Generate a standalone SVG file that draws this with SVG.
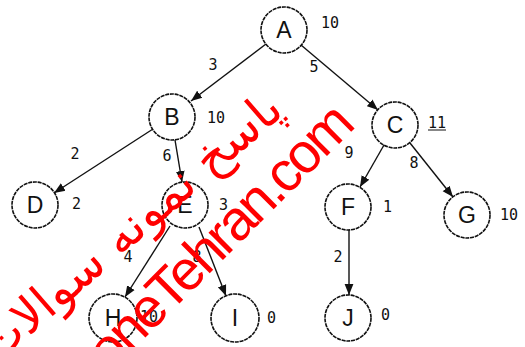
<svg xmlns="http://www.w3.org/2000/svg" width="525" height="347" viewBox="0 0 525 347">
  <style>
    .node circle { fill: #fff; stroke: #111; stroke-width: 1.6; stroke-dasharray: 4 0.8; }
    .node text.name { font-family: "Liberation Sans", Arial, sans-serif; font-size: 23px; fill: #111; text-anchor: middle; dominant-baseline: central; }
    .val { font-family: "DejaVu Sans Mono", "Liberation Mono", monospace; font-size: 15px; fill: #111; dominant-baseline: central; }
    .edges line { stroke: #111; stroke-width: 1.4; marker-end: url(#arrow); }
    .elabel { font-family: "DejaVu Sans Mono", "Liberation Mono", monospace; font-size: 15px; fill: #111; text-anchor: middle; dominant-baseline: central; }
    .wm { fill: #ff0000; }
  </style>
  <defs>
    <marker id="arrow" viewBox="0 0 10 10" refX="10" refY="5" markerWidth="11" markerHeight="11" markerUnits="userSpaceOnUse" orient="auto">
      <path d="M0,1 L10,5 L0,9 Z" fill="#111"/>
    </marker>
  </defs>
  <rect width="525" height="347" fill="#fff"/>

  <!-- connectors -->
  <g class="edges">
    <line x1="266" y1="44" x2="191" y2="101"/>
    <line x1="301" y1="45" x2="378" y2="110"/>
    <line x1="153" y1="129" x2="54" y2="193"/>
    <line x1="175" y1="140" x2="182" y2="182"/>
    <line x1="384" y1="145" x2="360" y2="187"/>
    <line x1="410" y1="143" x2="453" y2="197"/>
    <line x1="170" y1="226" x2="125" y2="297"/>
    <line x1="199" y1="227" x2="226" y2="296"/>
    <line x1="349" y1="230" x2="349" y2="295"/>
  </g>

  <!-- edge weights -->
  <g id="edge-labels">
    <text class="elabel" x="213" y="65">3</text>
    <text class="elabel" x="314" y="67">5</text>
    <text class="elabel" x="75" y="154">2</text>
    <text class="elabel" x="167" y="156">6</text>
    <text class="elabel" x="349" y="153">9</text>
    <text class="elabel" x="414" y="163">8</text>
    <text class="elabel" x="128" y="257">4</text>
    <text class="elabel" x="197" y="257">8</text>
    <text class="elabel" x="338" y="257">2</text>
  </g>

  <!-- nodes with heuristic values -->
  <g id="node-A" class="node"><circle cx="284" cy="30" r="23"/><text class="name" x="284" y="30">A</text><text class="val" x="321" y="23">10</text></g>
  <g id="node-B" class="node"><circle cx="172" cy="117" r="23"/><text class="name" x="172" y="117">B</text><text class="val" x="207" y="118">10</text></g>
  <g id="node-C" class="node"><circle cx="395" cy="125" r="23"/><text class="name" x="395" y="125">C</text><text class="val" x="428" y="123">11</text><line x1="428" y1="130" x2="446" y2="130" stroke="#111" stroke-width="1"/></g>
  <g id="node-D" class="node"><circle cx="35" cy="205" r="23"/><text class="name" x="35" y="205">D</text><text class="val" x="72" y="204">2</text></g>
  <g id="node-E" class="node"><circle cx="185" cy="205" r="23"/><text class="name" x="185" y="205">E</text><text class="val" x="219" y="205">3</text></g>
  <g id="node-F" class="node"><circle cx="348" cy="207" r="23"/><text class="name" x="348" y="207">F</text><text class="val" x="383" y="207">1</text></g>
  <g id="node-G" class="node"><circle cx="467" cy="215" r="23"/><text class="name" x="467" y="215">G</text><text class="val" x="500" y="215">10</text></g>
  <g id="node-H" class="node"><circle cx="113" cy="318" r="24"/><text class="name" x="113" y="318">H</text><text class="val" x="140" y="317">10</text></g>
  <g id="node-I" class="node"><circle cx="235" cy="318" r="24"/><text class="name" x="235" y="318">I</text><text class="val" x="267" y="318">0</text></g>
  <g id="node-J" class="node"><circle cx="348" cy="318" r="23"/><text class="name" x="348" y="318">J</text><text class="val" x="381" y="315">0</text></g>

  <!-- red site stamp -->
  <g id="stamp" class="wm">
    <text x="39" y="444" transform="rotate(-45 39 444)" font-family="Liberation Sans, Arial, sans-serif" font-size="56" letter-spacing="-3">nemoneTehran.com</text>
    <text x="140" y="240" transform="rotate(-41 140 240)" text-anchor="middle" font-family="DejaVu Sans, sans-serif" font-size="48">پاسخ نمونه سوالات</text>
  </g>
</svg>
